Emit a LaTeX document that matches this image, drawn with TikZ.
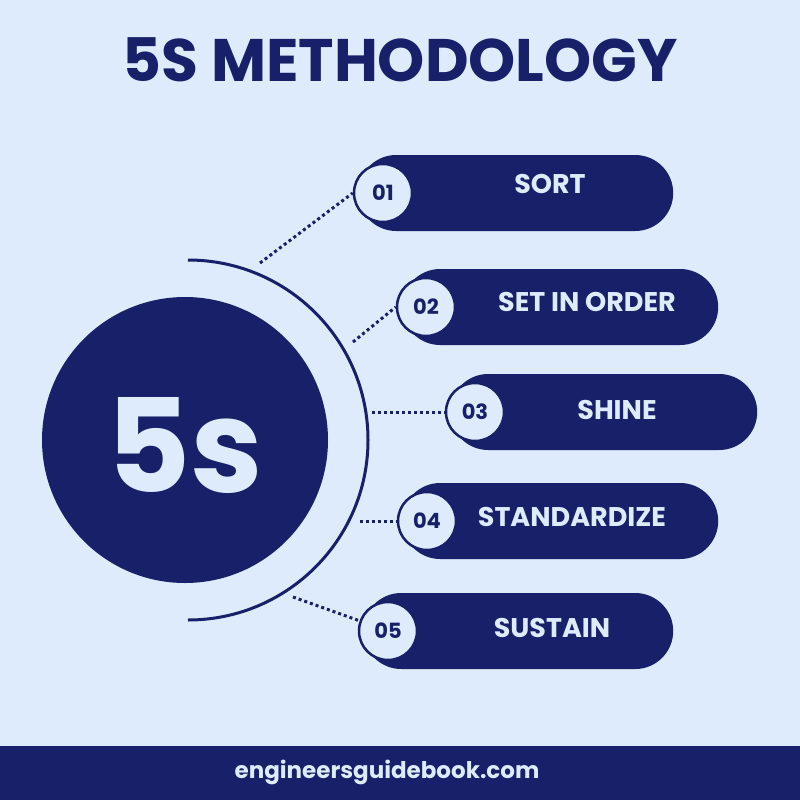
\documentclass[tikz,border=0pt]{standalone}
\usepackage{fontspec}
\setmainfont{Poppins}
\usepackage{tikz}
\definecolor{navy}{RGB}{23,32,104}
\definecolor{pale}{RGB}{221,235,252}
\tikzset{
  x=1pt,
  y=-1pt,
}
\tikzstyle{pill}=[rectangle,fill=navy,rounded corners=38pt,minimum height=76pt,anchor=west]
\tikzstyle{num}=[circle,draw=navy,line width=2.5pt,fill=pale,minimum size=58pt,inner sep=0pt,text=navy,font=\bfseries\fontsize{21}{21}\selectfont]
\tikzstyle{word}=[text=pale,font=\bfseries\fontsize{27}{27}\selectfont]
\tikzstyle{link}=[navy,line width=3pt,dash pattern=on 3pt off 3pt]

\begin{document}
\begin{tikzpicture}
    \fill[pale] (0,0) rectangle (800,800);
    \useasboundingbox (0,0) rectangle (800,800);
    \node[text=navy,font=\bfseries\fontsize{60}{60}\selectfont] (title) at (400,60) {5S METHODOLOGY};
    \node[circle,fill=navy,minimum size=286pt] (core) at (185,440) {};
    \node[text=pale,font=\bfseries\fontsize{130}{130}\selectfont] (five) at (185,445) {5s};
    \draw[navy,line width=3pt] (188,260) arc[start angle=-90,end angle=90,radius=180];
    \node[pill,minimum width=315pt] (p1) at (358,193) {};
    \node[pill,minimum width=316pt] (p2) at (402,307) {};
    \node[pill,minimum width=307pt] (p3) at (450,412) {};
    \node[pill,minimum width=316pt] (p4) at (402,521) {};
    \node[pill,minimum width=310pt] (p5) at (363,631) {};
    \node[num] (n1) at (383,193) {01};
    \node[num] (n2) at (426,307) {02};
    \node[num] (n3) at (475,412) {03};
    \node[num] (n4) at (427,521) {04};
    \node[num] (n5) at (388,631) {05};
    \node[word] (t1) at (550,184) {SORT};
    \node[word] (t2) at (587,302) {SET IN ORDER};
    \node[word] (t3) at (617,410) {SHINE};
    \node[word] (t4) at (572,517) {STANDARDIZE};
    \node[word] (t5) at (552,628) {SUSTAIN};
    \coordinate (a1) at (260,263);
    \coordinate (a2) at (353,342);
    \coordinate (a3) at (372,412);
    \coordinate (a4) at (360,521);
    \coordinate (a5) at (293,597);
    \draw[link] (a1) -- (n1.west);
    \draw[link] (a2) -- (n2.west);
    \draw[link] (a3) -- (n3.west);
    \draw[link] (a4) -- (n4.west);
    \draw[link] (a5) -- (n5);
    \fill[navy] (0,746) rectangle (800,800);
    \node[text=pale,font=\bfseries\fontsize{23}{23}\selectfont] (site) at (387,772) {engineersguidebook.com};
\end{tikzpicture}
\end{document}
